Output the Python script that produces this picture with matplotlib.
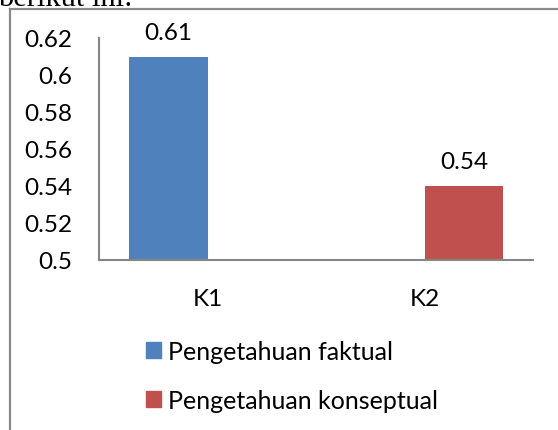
import numpy as np
import matplotlib
matplotlib.use("Agg")
import matplotlib.pyplot as plt
from matplotlib.lines import Line2D
from matplotlib.patches import Patch

categories = ["K1", "K2"]
series_names = ["Pengetahuan faktual", "Pengetahuan konseptual"]
faktual = [0.61, np.nan]
konseptual = [np.nan, 0.54]
y_ticks = [0.5, 0.52, 0.54, 0.56, 0.58, 0.6, 0.62]
y_tick_labels = ["0.5", "0.52", "0.54", "0.56", "0.58", "0.6", "0.62"]

blue = "#4F81BD"
red = "#C0504D"
axis_gray = "#868686"

plt.rcParams["font.family"] = ["Lato", "DejaVu Sans"]
fs = 17.5

W, H = 558, 431
fig = plt.figure(figsize=(W / 100, H / 100), dpi=100)

# surrounding document text and chart frame
fig.text(-2 / W, 1 - 6 / H, "berikut ini:", family="Liberation Serif",
         fontsize=22, va="baseline", ha="left", color="black")
fig.add_artist(Line2D([10 / W, 1.0], [1 - 10 / H, 1 - 10 / H],
                      color="#8a8a8a", lw=1.6, transform=fig.transFigure))
fig.add_artist(Line2D([10 / W, 10 / W], [1 - 10 / H, 0.0],
                      color="#8a8a8a", lw=1.6, transform=fig.transFigure))

ax = fig.add_axes([99 / W, (H - 261) / H, (533 - 99) / W, (261 - 39) / H])

x = np.arange(len(categories))
width = 0.364
off = 0.182
b1 = ax.bar(x - off, faktual, width, color=blue, label=series_names[0])
b2 = ax.bar(x + off, konseptual, width, color=red, label=series_names[1])

for bars, vals in ((b1, faktual), (b2, konseptual)):
    labels = ["" if np.isnan(v) else f"{v:g}" for v in vals]
    ax.bar_label(bars, labels=labels, padding=10, fontsize=fs)

ax.set_xlim(-0.5, 1.5)
ax.set_ylim(0.5, 0.62)
ax.set_yticks(y_ticks)
ax.set_yticklabels(y_tick_labels)
ax.set_xticks(x)
ax.set_xticklabels(categories)
ax.tick_params(axis="y", length=0, pad=19, labelsize=fs)
ax.tick_params(axis="x", length=0, pad=20, labelsize=fs)
for s in ("top", "right"):
    ax.spines[s].set_visible(False)
for s in ("left", "bottom"):
    ax.spines[s].set_color(axis_gray)
    ax.spines[s].set_linewidth(1.5)

handles = [Patch(color=blue), Patch(color=red)]
fig.legend(handles, series_names, loc="upper left",
           bbox_to_anchor=(146 / W, 1 - 341 / H), frameon=False,
           fontsize=18, handlelength=0.6, handleheight=0.6,
           handletextpad=0.28, labelspacing=1.03, borderpad=0,
           borderaxespad=0)

fig.savefig("out.png", dpi=100)
